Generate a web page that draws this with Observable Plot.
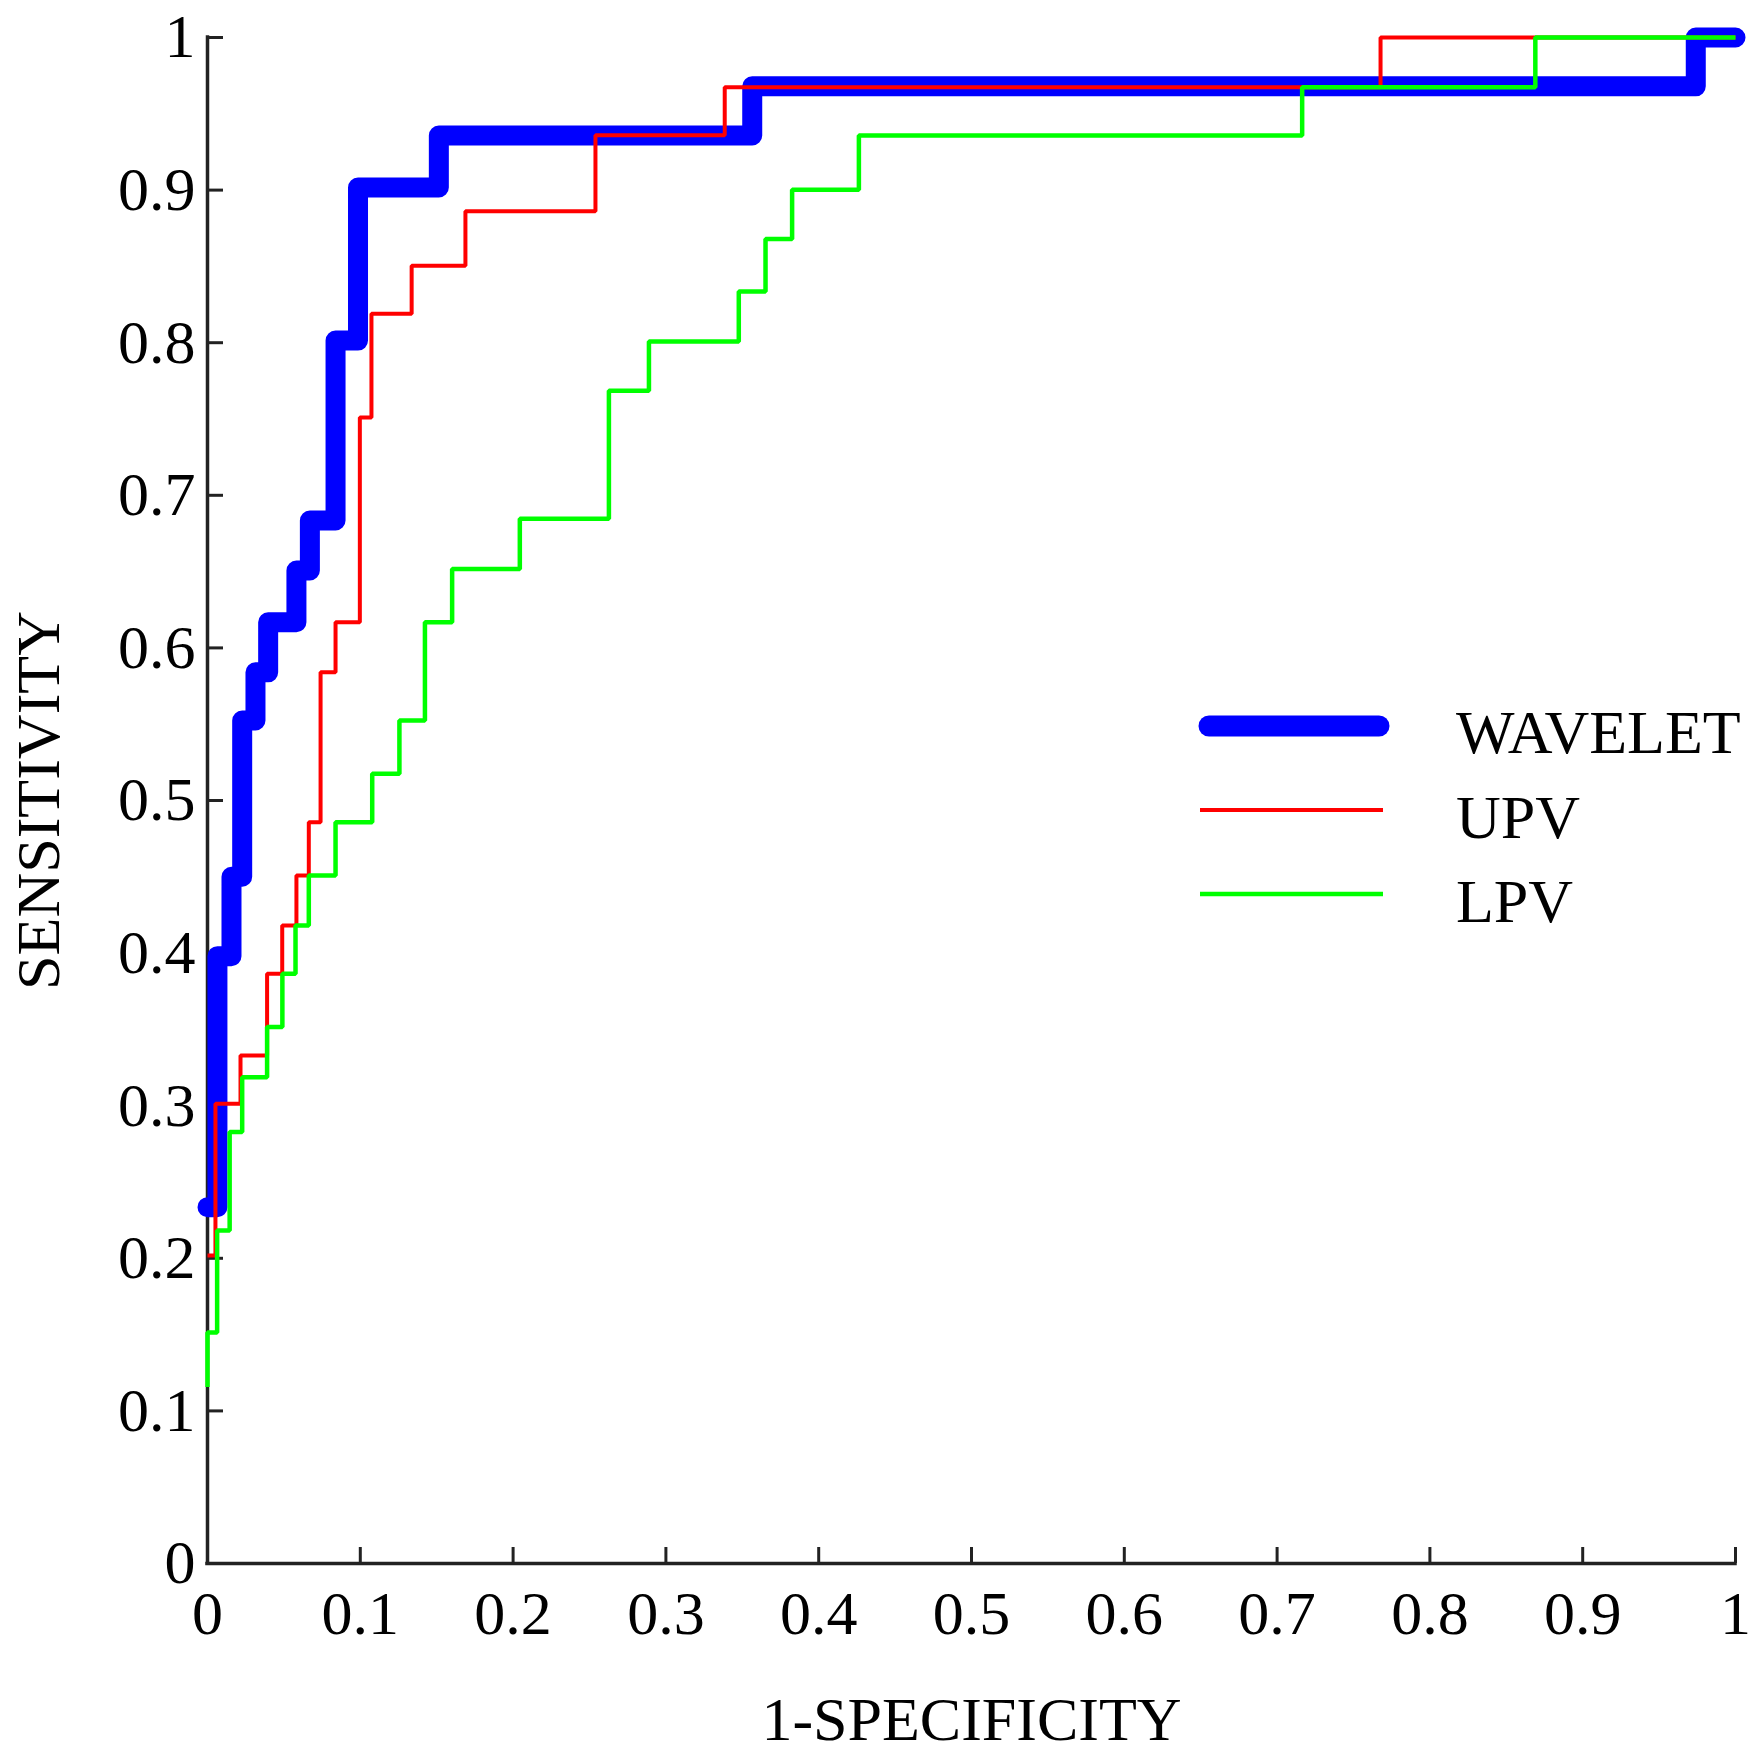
<!DOCTYPE html>
<html>
<head>
<meta charset="utf-8">
<script src="https://cdn.jsdelivr.net/npm/d3@7"></script>
<script src="https://cdn.jsdelivr.net/npm/@observablehq/plot@0.6"></script>
<style>
  html, body { margin: 0; padding: 0; background: #fff; }
  #chart-display { position: relative; width: 1757px; height: 1752px; }
  #chart-display svg { display: block; }
</style>
</head>
<body>
<div id="chart-display"></div>
<script>
// tick values and axis titles
const xTicks = [0, 0.1, 0.2, 0.3, 0.4, 0.5, 0.6, 0.7, 0.8, 0.9, 1];
const yTicks = [0, 0.1, 0.2, 0.3, 0.4, 0.5, 0.6, 0.7, 0.8, 0.9, 1];
const xLabel = "1-SPECIFICITY";
const yLabel = "SENSITIVITY";

const seriesNames = ["WAVELET", "UPV", "LPV"];

// ROC vertices (1-specificity, sensitivity)
const waveletX = [0, 0.0065, 0.0157, 0.0227, 0.0314, 0.0397, 0.0582, 0.067, 0.0838, 0.0985, 0.1514, 0.3565, 0.974, 1];
const waveletY = [0.2335, 0.398, 0.45, 0.5524, 0.584, 0.6168, 0.6507, 0.6835, 0.8014, 0.9017, 0.9358, 0.968, 1, 1];

const upvX = [0, 0.0052, 0.0216, 0.039, 0.0489, 0.0582, 0.0663, 0.074, 0.0838, 0.0997, 0.1073, 0.1336, 0.1688, 0.2539, 0.3385, 0.7677, 1];
const upvY = [0.2018, 0.3012, 0.3329, 0.3864, 0.4181, 0.4509, 0.4858, 0.584, 0.6168, 0.751, 0.819, 0.8505, 0.8862, 0.9359, 0.9674, 1, 1];

const lpvX = [0, 0, 0.0063, 0.0145, 0.0227, 0.039, 0.049, 0.0576, 0.0663, 0.0838, 0.1078, 0.1256, 0.1423, 0.1601, 0.2044, 0.2627, 0.2889, 0.3477, 0.3652, 0.3826, 0.4263, 0.7164, 0.869, 1];
const lpvY = [0.1156, 0.1514, 0.2182, 0.2827, 0.3187, 0.3516, 0.3864, 0.4181, 0.4509, 0.4858, 0.5175, 0.5524, 0.6168, 0.6517, 0.6846, 0.7685, 0.8008, 0.8335, 0.868, 0.9002, 0.9358, 0.9674, 1, 1];

const colors = ["#0000ff", "#ff0000", "#00ff00"];
const widths = [20, 4, 4.5];

const font = "'Liberation Serif', 'Times New Roman', serif";
const fmt = d3.format("~g");

const table = (xs, ys) => xs.map((x, i) => ({x, y: ys[i]}));
const curves = [table(waveletX, waveletY), table(upvX, upvY), table(lpvX, lpvY)];

const plot = Plot.plot({
  width: 1757,
  height: 1752,
  marginLeft: 207,
  marginRight: 22,
  marginTop: 37,
  marginBottom: 189,
  style: {fontFamily: font, fontSize: "62px", color: "#000", background: "#fff", overflow: "visible"},
  x: {domain: [0, 1]},
  y: {domain: [0, 1]},
  marks: [
    Plot.ruleX([0], {stroke: "#222", strokeWidth: 3.5, strokeLinecap: "square"}),
    Plot.ruleY([0], {stroke: "#222", strokeWidth: 3.5, strokeLinecap: "square"}),
    Plot.axisX({ticks: xTicks, tickFormat: fmt, tickSize: -16, tickPadding: 42, strokeWidth: 3, stroke: "#222", label: null}),
    Plot.axisY({ticks: yTicks, tickFormat: fmt, tickSize: -16, tickPadding: 28, strokeWidth: 3, stroke: "#222", label: null}),
    ...curves.map((c, i) => Plot.line(c, {
      x: "x",
      y: "y",
      curve: "step-after",
      stroke: colors[i],
      strokeWidth: widths[i],
      strokeLinecap: i === 0 ? "round" : "butt",
      strokeLinejoin: i === 0 ? "round" : "miter"
    })),
    Plot.text([yLabel], {frameAnchor: "left", textAnchor: "middle", rotate: -90, dx: -149, lineAnchor: "bottom"}),
    Plot.text([xLabel], {frameAnchor: "bottom", textAnchor: "middle", dy: 176, lineAnchor: "bottom"})
  ]
});

const holder = document.querySelector("#chart-display");
holder.append(plot);

// legend inside the plot area, drawn as an overlay
const legendRows = [
  {x1: 1209, x2: 1379, y: 726, baseline: 753},
  {x1: 1200, x2: 1383, y: 810, baseline: 838},
  {x1: 1200, x2: 1383, y: 894, baseline: 922}
];
const legend = d3.select(holder).append("svg")
  .attr("width", 1757)
  .attr("height", 1752)
  .style("position", "absolute")
  .style("left", 0)
  .style("top", 0)
  .style("pointer-events", "none");

seriesNames.forEach((name, i) => {
  const r = legendRows[i];
  legend.append("line")
    .attr("x1", r.x1).attr("x2", r.x2)
    .attr("y1", r.y).attr("y2", r.y)
    .attr("stroke", colors[i])
    .attr("stroke-width", i === 0 ? 21 : widths[i])
    .attr("stroke-linecap", i === 0 ? "round" : "butt");
  legend.append("text")
    .attr("x", 1456)
    .attr("y", r.baseline)
    .attr("font-family", font)
    .attr("font-size", 62)
    .attr("fill", "#000")
    .text(name);
});
</script>
</body>
</html>
